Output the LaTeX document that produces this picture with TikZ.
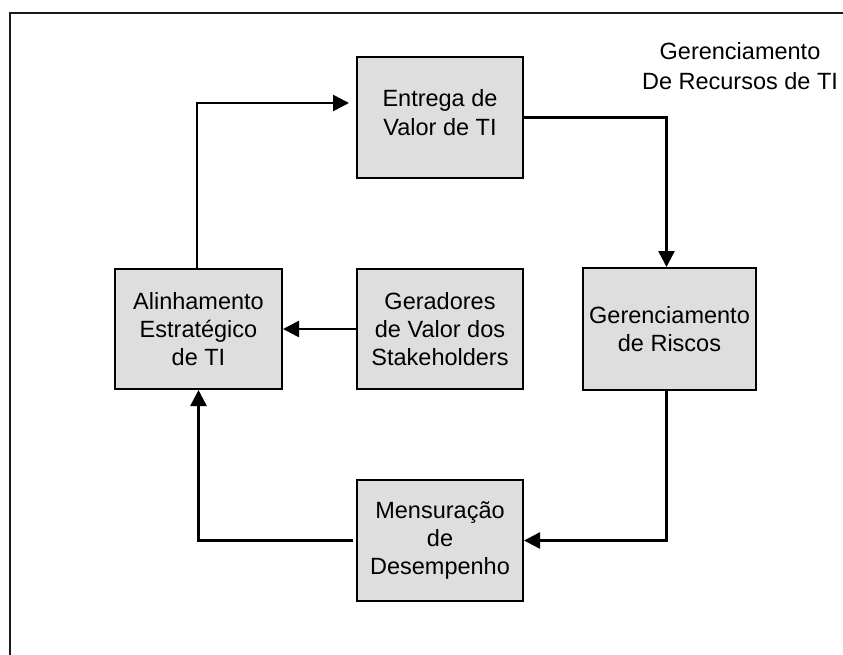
\documentclass[tikz,border=0pt]{standalone}
\usepackage{fontspec}
\setmainfont{Liberation Sans}
\usetikzlibrary{arrows.meta}
\begin{document}
\begin{tikzpicture}[x=1pt,y=-1pt,
  box/.style={draw=black, line width=2pt, fill=black!13, rectangle, align=center,
    font=\fontsize{23.5}{28}\selectfont, inner sep=0pt},
  boxtext/.style={align=center, font=\fontsize{23.5}{29}\selectfont, inner sep=0pt},
  arr/.style={line width=2.5pt, -{Triangle[length=16pt,width=16pt]}},
  frameline/.style={line width=2pt, draw=black!90}]
\useasboundingbox (0,0) rectangle (843,654);
\draw[frameline] (9.5,660) -- (9.5,12.5) -- (850,12.5);
\node[box, minimum width=167pt, minimum height=120pt] (alin) at (198.5,329) {Alinhamento\\Estratégico\\de TI};
\node[box, minimum width=166pt, minimum height=121pt] (entrega) at (440,117.5) {};
\node[boxtext] (entregaT) at (440,112.5) {Entrega de\\Valor de TI};
\node[box, minimum width=166pt, minimum height=120pt] (gerad) at (440,329) {Geradores\\de Valor dos\\Stakeholders};
\node[box, minimum width=173pt, minimum height=122pt] (riscos) at (669.5,329) {Gerenciamento\\de Riscos};
\node[box, minimum width=166pt, minimum height=121pt] (mensur) at (440,540.5) {Mensuração\\de\\Desempenho};
\node[align=center, font=\fontsize{23.5}{30}\selectfont, inner sep=0pt] (titulo) at (740,66) {Gerenciamento\\De Recursos de TI};
\draw[arr] ([xshift=-1.5pt]alin.north) |- ([xshift=-7pt,yshift=14.5pt]entrega.west);
\draw[arr] (entrega.east) -| ([xshift=-3pt]riscos.north);
\draw[arr] ([xshift=-3pt]riscos.south) |- (mensur.east);
\draw[arr] ([xshift=-3pt]mensur.west) -| (alin.south);
\draw[arr] (gerad.west) -- (alin.east);
\end{tikzpicture}
\end{document}
